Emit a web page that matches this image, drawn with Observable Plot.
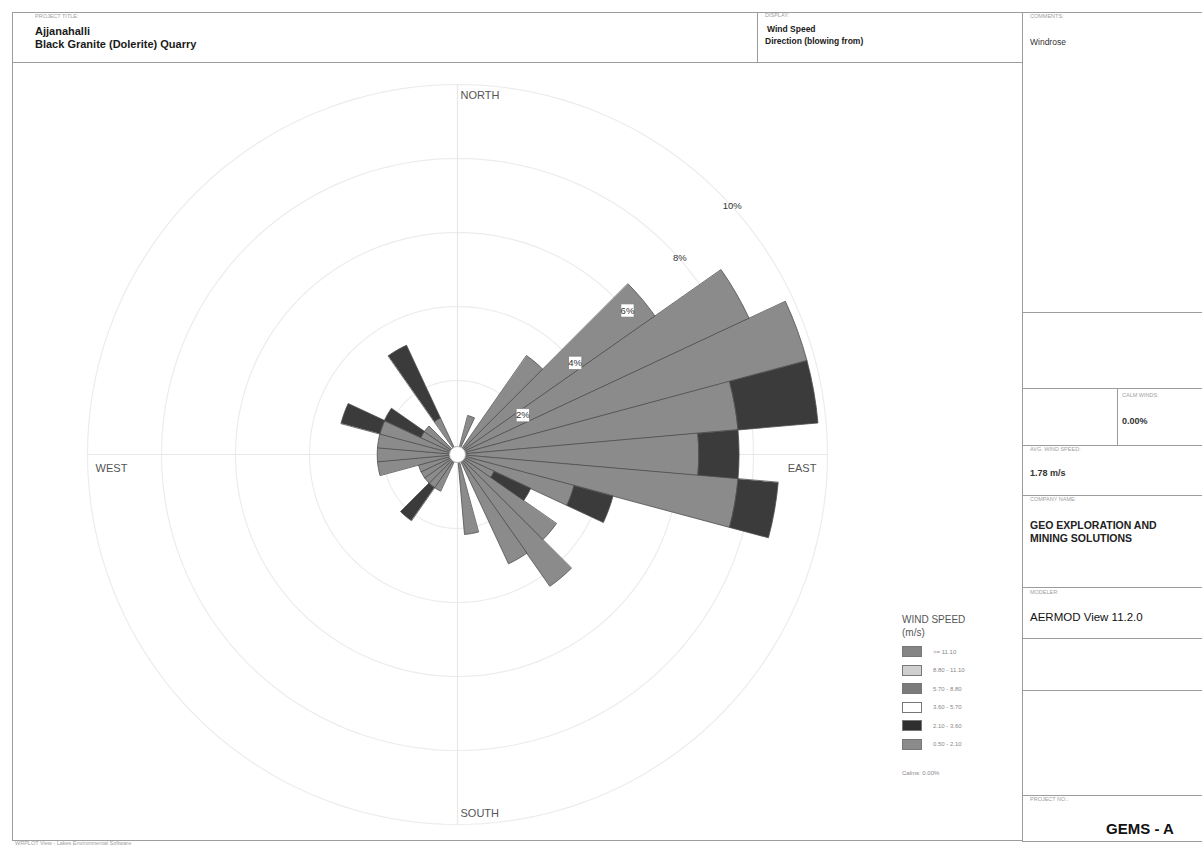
<!DOCTYPE html>
<html><head><meta charset="utf-8">
<script src="https://cdn.jsdelivr.net/npm/d3@7"></script>
<script src="https://cdn.jsdelivr.net/npm/@observablehq/plot@0.6"></script>
<style>
body{margin:0;background:#fff;font-family:"Liberation Sans",Arial,sans-serif;}
#page{position:relative;width:1202px;height:848px;overflow:hidden;background:#fff;}
.box{position:absolute;border:1.5px solid #9c9c9c;box-sizing:border-box;}
.tx{position:absolute;white-space:nowrap;}
#chart{position:absolute;left:12px;top:62px;}
</style></head><body><div id="page"><div id="chart"></div></div>
<script>
// ---------------- data ----------------
const directions = [0,10,20,30,40,50,60,70,80,90,100,110,120,130,140,150,160,170,180,190,200,210,220,230,240,250,260,270,280,290,300,310,320,330,340,350];
// frequency (%) of wind speed class 0.50 - 2.10 m/s
const freqClass1 = [0,0,1.09,0,3.26,6.52,8.70,9.78,7.61,6.52,7.61,3.26,1.09,3.26,4.35,3.26,0,2.17,0,0,0,1.09,1.09,1.09,1.09,1.09,2.17,2.17,2.17,2.17,1.09,1.09,0,1.09,0,0];
// frequency (%) of wind speed class 2.10 - 3.60 m/s
const freqClass2 = [0,0,0,0,0,0,0,0,2.17,1.09,1.09,1.09,1.09,0,0,0,0,0,0,0,0,0,1.09,0,0,0,0,0,0,1.09,1.09,0,0,2.17,0,0];
const speedClasses = [">= 11.10","8.80 - 11.10","5.70 - 8.80","3.60 - 5.70","2.10 - 3.60","0.50 - 2.10"];
const calmsText = "Calms: 0.00%";
const ringValues = [2,4,6,8,10];
const ringLabels = ["2%","4%","6%","8%","10%"];
const compassLabels = ["NORTH","EAST","SOUTH","WEST"];
const compassAngles = [0,90,180,270];

// ---------------- styles ----------------
const classColors = ["#858585","#cfcfcf","#7b7b7b","#ffffff","#2f2f2f","#8b8b8b"];
const barColors = ["#8b8b8b","#3b3b3b"];

// ---------------- page frame ----------------
const page = document.getElementById("page");
function box(l,t,w,h){const d=document.createElement("div");d.className="box";Object.assign(d.style,{left:l+"px",top:t+"px",width:w+"px",height:h+"px"});page.appendChild(d);}
function txt(s,l,cy,fs,opt={}){const d=document.createElement("div");d.className="tx";d.textContent=s;
  Object.assign(d.style,{left:l+"px",top:(cy-fs/2)+"px",fontSize:fs+"px",lineHeight:fs+"px",color:opt.color||"#1a1a1a",fontWeight:opt.bold?"bold":"normal"});
  if(opt.center){d.style.transform="translateX(-50%)";}
  page.appendChild(d);}
box(12,12,746,51); box(757,12,266,51); box(12,62,1011,779);
const rows=[[12,312],[312,388],[388,445],[445,495],[495,587],[587,638],[638,690],[690,795],[795,841]];
rows.forEach(([a,b])=>box(1022,a,200,b-a+1));
box(1117,388,105,58);
const small={color:"#a0a0a0"};
txt("PROJECT TITLE:",35,17,5.5,small);
txt("Ajjanahalli",35,31,11,{bold:true});
txt("Black Granite (Dolerite) Quarry",35,44,11,{bold:true});
txt("DISPLAY:",765,16,5.5,small);
txt("Wind Speed",767,29,8.5,{bold:true});
txt("Direction (blowing from)",765,41,8.5,{bold:true});
txt("COMMENTS:",1030,17,5.5,small);
txt("Windrose",1030,42,8.5,{color:"#333"});
txt("CALM WINDS:",1122,396,5.5,small);
txt("0.00%",1122,421,9,{bold:true,color:"#333"});
txt("AVG. WIND SPEED:",1030,450,5.5,small);
txt("1.78 m/s",1030,473,9,{bold:true,color:"#333"});
txt("COMPANY NAME:",1030,500,5.5,small);
txt("GEO EXPLORATION AND",1030,525,10.5,{bold:true,color:"#222"});
txt("MINING SOLUTIONS",1030,538,10.5,{bold:true,color:"#222"});
txt("MODELER:",1030,593,5.5,small);
txt("AERMOD View 11.2.0",1030,618,11.5,{color:"#111"});
txt("PROJECT NO.:",1030,800,5.5,small);
txt("GEMS - A",1140,828,15,{bold:true,color:"#111",center:true});
txt("WRPLOT View - Lakes Environmental Software",15,844,5.5,small);

// legend
txt("WIND SPEED",902,620,10,{color:"#555"});
txt("(m/s)",902,633,10,{color:"#555"});
speedClasses.forEach((s,i)=>{
  const y=651+i*18.5;
  const sw=document.createElement("div");
  Object.assign(sw.style,{position:"absolute",left:"902px",top:(y-5)+"px",width:"20px",height:"11px",background:classColors[i],border:"1px solid #777",boxSizing:"border-box"});
  page.appendChild(sw);
  txt(s,933,y+0.5,6,{color:"#888"});
});
txt(calmsText,902,773,6,{color:"#888"});

// ---------------- wind rose ----------------
const W=1010,H=778,cx=445,cy=392,ppu=37;
const rad=a=>a*Math.PI/180;
const pt=(r,a)=>[r*Math.sin(rad(a)), r*Math.cos(rad(a))];
const half=5, steps=4;
const segs=[];
directions.forEach((dir,i)=>{
  let r0=0;
  [freqClass1[i],freqClass2[i]].forEach((v,k)=>{
    if(v<=0) return;
    const r1=r0+v, id=dir+"-"+k, p=[];
    for(let t=0;t<=steps;t++) p.push(pt(r1,dir-half+2*half*t/steps));
    if(r0===0) p.push([0,0]); else for(let t=steps;t>=0;t--) p.push(pt(r0,dir-half+2*half*t/steps));
    p.forEach(q=>segs.push({id,x:q[0],y:q[1],fill:barColors[k]}));
    r0=r1;
  });
});
const rings=[];
ringValues.forEach(v=>{for(let a=0;a<360;a+=2){const q=pt(v,a);rings.push({ring:v,x:q[0],y:q[1]});}});
const labelAngle=45;
const ringLab=ringValues.map((v,i)=>{const q=pt(v,labelAngle);return {x:q[0],y:q[1],text:ringLabels[i],boxed:i<3};});
const compR=9.7;
const comp=compassLabels.map((s,i)=>{const q=pt(compR,compassAngles[i]);return {x:q[0],y:q[1],text:s,a:compassAngles[i]};});

const chart=Plot.plot({
  width:W,height:H,margin:0,
  x:{domain:[-cx/ppu,(W-cx)/ppu],range:[0,W],axis:null},
  y:{domain:[-(H-cy)/ppu,cy/ppu],range:[H,0],axis:null},
  color:{type:"identity"},
  style:{fontFamily:"Liberation Sans, Arial, sans-serif",background:"transparent",overflow:"visible"},
  marks:[
    Plot.line(rings,{x:"x",y:"y",z:"ring",stroke:"#ececec",strokeWidth:1.2,curve:"linear-closed"}),
    Plot.ruleX([0],{y1:-10,y2:10,stroke:"#e8e8e8",strokeWidth:1.2}),
    Plot.ruleY([0],{x1:-10,x2:10,stroke:"#e8e8e8",strokeWidth:1.2}),
    Plot.line(segs,{x:"x",y:"y",z:"id",fill:"fill",stroke:"#505050",strokeWidth:0.8,curve:"linear-closed",strokeLinejoin:"miter"}),
    Plot.dot([{x:0,y:0}],{x:"x",y:"y",r:8,fill:"white",stroke:"#b0b0b0",strokeWidth:1}),
    Plot.dot(ringLab.filter(d=>d.boxed),{x:"x",y:"y",dx:13,dy:13,symbol:"square",r:7.5,fill:"white",stroke:"#777",strokeWidth:0.7}),
    Plot.text(ringLab,{x:"x",y:"y",dx:13,dy:13,text:"text",fontSize:9.5,fill:"#333"}),
    Plot.text(comp.filter(d=>d.a===0||d.a===180),{x:"x",y:"y",text:"text",textAnchor:"start",dx:3,fontSize:11,fill:"#555"}),
    Plot.text(comp.filter(d=>d.a===270),{x:"x",y:"y",text:"text",textAnchor:"start",dx:-3,dy:14,fontSize:11,fill:"#555"}),
    Plot.text(comp.filter(d=>d.a===90),{x:"x",y:"y",text:"text",textAnchor:"end",dx:0,dy:14,fontSize:11,fill:"#555"})
  ]
});
document.getElementById("chart").appendChild(chart);
</script></body></html>
